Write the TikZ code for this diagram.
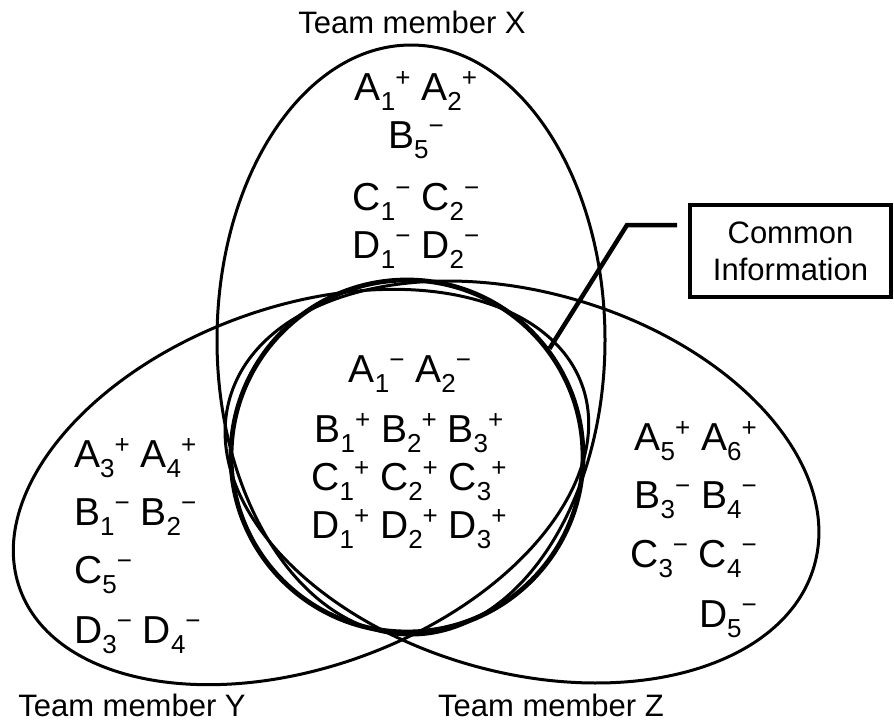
\documentclass[tikz,border=0pt]{standalone}
\usepackage{fontspec}
\setmainfont{Liberation Sans}
\usetikzlibrary{positioning}

% item with subscript index and superscript sign, set side by side
\newcommand\subsz{\fontsize{26}{26}\selectfont}
\newcommand\itm[3]{#1\raisebox{-10pt}{\subsz #2}\raisebox{14pt}{\subsz #3}}
\newcommand\pl{+}
\newcommand\mn{−}

\begin{document}
\begin{tikzpicture}[x=1pt,y=1pt,
  setline/.style={line width=3pt},
  commonline/.style={line width=4.8pt},
  itemrow/.style={inner sep=0pt, font=\fontsize{39}{39}\selectfont},
  teamlabel/.style={inner sep=0pt, font=\fontsize{31}{31}\selectfont},
  calloutbox/.style={draw, line width=3.6pt, minimum width=201pt, minimum height=92pt,
    align=center, font=\fontsize{31}{37}\selectfont},
  leader/.style={line width=4.5pt}]

\useasboundingbox (0,0) rectangle (894,-726);

% the three team members' sets
\draw[setline] (411,-340) ellipse [x radius=194, y radius=295];
\draw[setline] (301,-487) ellipse [x radius=299, y radius=180, rotate=20];
\draw[setline] (522,-482) ellipse [x radius=304, y radius=190, rotate=-16];

% common information
\node[circle, draw, commonline, minimum size=352pt, inner sep=0pt] (common) at (407,-456) {};

% team labels
\node[teamlabel, anchor=base] (lx) at (412,-33) {Team member X};
\node[teamlabel, anchor=base] (ly) at (132,-716) {Team member Y};
\node[teamlabel, anchor=base] (lz) at (551,-716) {Team member Z};

% items of X only
\node[itemrow, anchor=base] (x1) at (416,-100) {\itm{A}{1}{\pl} \itm{A}{2}{\pl}};
\node[itemrow, anchor=base] (x2) at (416,-148) {\itm{B}{5}{\mn}};
\node[itemrow, anchor=base] (x3) at (416,-210) {\itm{C}{1}{\mn} \itm{C}{2}{\mn}};
\node[itemrow, anchor=base] (x4) at (416,-258) {\itm{D}{1}{\mn} \itm{D}{2}{\mn}};

% common items
\node[itemrow, anchor=base] (c1) at (410,-382) {\itm{A}{1}{\mn} \itm{A}{2}{\mn}};
\node[itemrow, anchor=base] (c2) at (409,-442) {\itm{B}{1}{\pl} \itm{B}{2}{\pl} \itm{B}{3}{\pl}};
\node[itemrow, anchor=base] (c3) at (409,-490) {\itm{C}{1}{\pl} \itm{C}{2}{\pl} \itm{C}{3}{\pl}};
\node[itemrow, anchor=base] (c4) at (409,-538) {\itm{D}{1}{\pl} \itm{D}{2}{\pl} \itm{D}{3}{\pl}};

% items of Y only
\node[itemrow, anchor=base west] (y1) at (74,-467) {\itm{A}{3}{\pl} \itm{A}{4}{\pl}};
\node[itemrow, anchor=base west] (y2) at (74,-525) {\itm{B}{1}{\mn} \itm{B}{2}{\mn}};
\node[itemrow, anchor=base west] (y3) at (74,-583) {\itm{C}{5}{\mn}};
\node[itemrow, anchor=base west] (y4) at (74,-643) {\itm{D}{3}{\mn} \itm{D}{4}{\mn}};

% items of Z only
\node[itemrow, anchor=base east] (z1) at (757,-450) {\itm{A}{5}{\pl} \itm{A}{6}{\pl}};
\node[itemrow, anchor=base east] (z2) at (757,-508) {\itm{B}{3}{\mn} \itm{B}{4}{\mn}};
\node[itemrow, anchor=base east] (z3) at (757,-567) {\itm{C}{3}{\mn} \itm{C}{4}{\mn}};
\node[itemrow, anchor=base east] (z4) at (757,-627) {\itm{D}{5}{\mn}};

% callout
\node[calloutbox] (box) at (790.5,-251) {Common\\Information};
\coordinate (lead) at (677,-225);
\coordinate (bend) at (627,-225);
\draw[leader] (lead) -- (bend) -- (common.37);

\end{tikzpicture}
\end{document}
